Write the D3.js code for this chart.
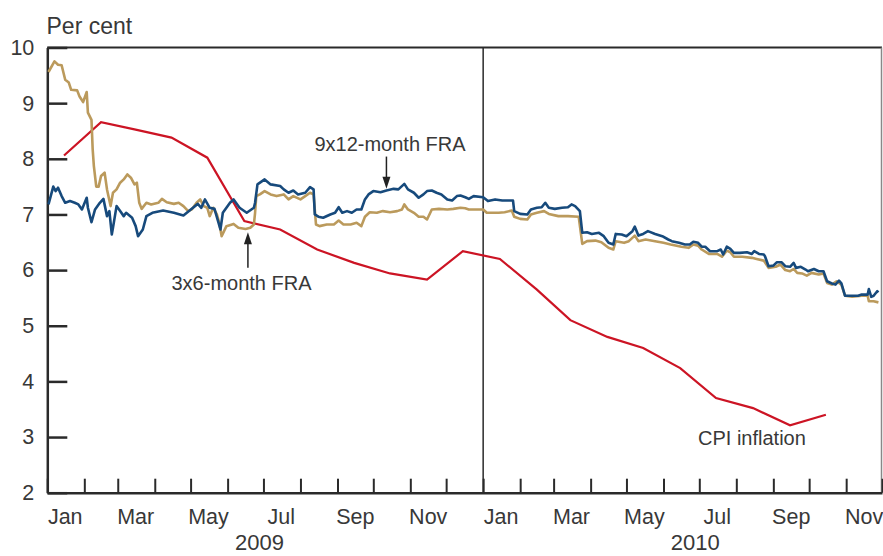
<!DOCTYPE html>
<html>
<head>
<meta charset="utf-8">
<title>FRA and CPI inflation</title>
<style>
body { margin: 0; background: #fff; }
text { font-family: "Liberation Sans", Arial, sans-serif; fill: #383838; }
.axis text { font-size: 21.5px; }
.axis path, .axis line { stroke: #2a2a2a; }
.note { font-size: 20px; }
</style>
</head>
<body>
<script src="https://cdn.jsdelivr.net/npm/d3@7"></script>
<script>

// 3x6-month FRA (per cent)
var fra3x6 = [
  ["2009-01-02", 9.56], ["2009-01-07", 9.75], ["2009-01-10", 9.69], ["2009-01-13", 9.68],
  ["2009-01-16", 9.42], ["2009-01-19", 9.37], ["2009-01-21", 9.24], ["2009-01-26", 9.23],
  ["2009-01-28", 9.12], ["2009-01-31", 9.02], ["2009-02-03", 9.20], ["2009-02-04", 8.83],
  ["2009-02-07", 8.70], ["2009-02-08", 8.17], ["2009-02-09", 7.87], ["2009-02-11", 7.50],
  ["2009-02-13", 7.50], ["2009-02-15", 7.69], ["2009-02-18", 7.75], ["2009-02-20", 7.45],
  ["2009-02-23", 7.15], ["2009-02-25", 7.39], ["2009-02-28", 7.45], ["2009-03-03", 7.57],
  ["2009-03-06", 7.63], ["2009-03-09", 7.72], ["2009-03-12", 7.66], ["2009-03-15", 7.54],
  ["2009-03-17", 7.57], ["2009-03-19", 7.21], ["2009-03-21", 7.10], ["2009-03-25", 7.21],
  ["2009-03-29", 7.18], ["2009-04-04", 7.21], ["2009-04-07", 7.28], ["2009-04-11", 7.22],
  ["2009-04-17", 7.19], ["2009-04-21", 7.21], ["2009-04-25", 7.15], ["2009-04-29", 7.06],
  ["2009-05-02", 7.09], ["2009-05-06", 7.21], ["2009-05-09", 7.27], ["2009-05-12", 7.15],
  ["2009-05-15", 7.12], ["2009-05-17", 6.97], ["2009-05-20", 7.12], ["2009-05-23", 7.00],
  ["2009-05-25", 6.85], ["2009-05-27", 6.61], ["2009-05-31", 6.79], ["2009-06-06", 6.83],
  ["2009-06-10", 6.76], ["2009-06-16", 6.74], ["2009-06-20", 6.76], ["2009-06-23", 6.82],
  ["2009-06-24", 7.03], ["2009-06-25", 7.33], ["2009-06-28", 7.36], ["2009-07-02", 7.42],
  ["2009-07-07", 7.36], ["2009-07-12", 7.33], ["2009-07-18", 7.36], ["2009-07-22", 7.27],
  ["2009-07-26", 7.33], ["2009-08-01", 7.27], ["2009-08-05", 7.33], ["2009-08-09", 7.39],
  ["2009-08-12", 7.36], ["2009-08-14", 6.82], ["2009-08-17", 6.79], ["2009-08-23", 6.82],
  ["2009-08-29", 6.82], ["2009-09-02", 6.89], ["2009-09-06", 6.82], ["2009-09-12", 6.82],
  ["2009-09-17", 6.85], ["2009-09-21", 6.79], ["2009-09-24", 6.96], ["2009-09-28", 7.04],
  ["2009-10-04", 7.03], ["2009-10-09", 7.06], ["2009-10-15", 7.04], ["2009-10-21", 7.06],
  ["2009-10-25", 7.09], ["2009-10-27", 7.18], ["2009-10-30", 7.09], ["2009-11-04", 7.03],
  ["2009-11-08", 6.96], ["2009-11-12", 6.96], ["2009-11-15", 6.91], ["2009-11-19", 7.09],
  ["2009-11-25", 7.10], ["2009-12-02", 7.09], ["2009-12-07", 7.10], ["2009-12-13", 7.12],
  ["2009-12-17", 7.11], ["2009-12-20", 7.09], ["2010-01-01", 7.09], ["2010-01-04", 7.03],
  ["2010-01-14", 7.03], ["2010-01-19", 7.04], ["2010-01-25", 7.07], ["2010-01-27", 6.96],
  ["2010-02-01", 6.92], ["2010-02-07", 6.91], ["2010-02-10", 7.00], ["2010-02-15", 7.03],
  ["2010-02-21", 7.06], ["2010-02-25", 7.01], ["2010-03-05", 6.97], ["2010-03-13", 6.97],
  ["2010-03-22", 6.96], ["2010-03-25", 6.47], ["2010-03-29", 6.52], ["2010-04-05", 6.53],
  ["2010-04-10", 6.50], ["2010-04-16", 6.40], ["2010-04-20", 6.37], ["2010-04-22", 6.52],
  ["2010-04-29", 6.49], ["2010-05-03", 6.52], ["2010-05-08", 6.62], ["2010-05-11", 6.52],
  ["2010-05-17", 6.55], ["2010-05-25", 6.52], ["2010-06-01", 6.49], ["2010-06-07", 6.46],
  ["2010-06-16", 6.42], ["2010-06-22", 6.40], ["2010-06-26", 6.46], ["2010-06-30", 6.44],
  ["2010-07-03", 6.37], ["2010-07-09", 6.29], ["2010-07-16", 6.29], ["2010-07-20", 6.24],
  ["2010-07-24", 6.35], ["2010-07-27", 6.32], ["2010-07-30", 6.24], ["2010-08-06", 6.24],
  ["2010-08-14", 6.22], ["2010-08-18", 6.20], ["2010-08-24", 6.17], ["2010-08-28", 6.04],
  ["2010-09-03", 6.06], ["2010-09-07", 6.10], ["2010-09-11", 6.00], ["2010-09-15", 5.98],
  ["2010-09-18", 6.02], ["2010-09-21", 5.95], ["2010-09-25", 5.94], ["2010-09-29", 5.90],
  ["2010-10-03", 5.95], ["2010-10-09", 5.92], ["2010-10-13", 5.94], ["2010-10-16", 5.77],
  ["2010-10-20", 5.74], ["2010-10-24", 5.80], ["2010-10-28", 5.74], ["2010-10-31", 5.54],
  ["2010-11-06", 5.52], ["2010-11-14", 5.54], ["2010-11-19", 5.54], ["2010-11-20", 5.44],
  ["2010-11-24", 5.44], ["2010-11-28", 5.42]
];

// 9x12-month FRA (per cent)
var fra9x12 = [
  ["2009-01-02", 7.18], ["2009-01-06", 7.50], ["2009-01-08", 7.42], ["2009-01-10", 7.48],
  ["2009-01-13", 7.33], ["2009-01-16", 7.21], ["2009-01-20", 7.24], ["2009-01-24", 7.21],
  ["2009-01-27", 7.18], ["2009-01-30", 7.09], ["2009-02-03", 7.30], ["2009-02-04", 7.12],
  ["2009-02-07", 6.86], ["2009-02-10", 7.09], ["2009-02-14", 7.21], ["2009-02-17", 7.28],
  ["2009-02-20", 6.97], ["2009-02-22", 7.06], ["2009-02-24", 6.64], ["2009-02-25", 6.76],
  ["2009-02-28", 7.15], ["2009-03-03", 7.06], ["2009-03-06", 6.97], ["2009-03-08", 7.03],
  ["2009-03-13", 6.94], ["2009-03-16", 6.79], ["2009-03-18", 6.61], ["2009-03-22", 6.73],
  ["2009-03-25", 6.97], ["2009-03-30", 7.03], ["2009-04-08", 7.07], ["2009-04-17", 7.03],
  ["2009-04-25", 6.98], ["2009-05-03", 7.12], ["2009-05-07", 7.19], ["2009-05-10", 7.12],
  ["2009-05-13", 7.27], ["2009-05-17", 7.12], ["2009-05-21", 7.10], ["2009-05-26", 6.73],
  ["2009-05-28", 7.03], ["2009-06-03", 7.21], ["2009-06-06", 7.27], ["2009-06-11", 7.12],
  ["2009-06-17", 7.03], ["2009-06-23", 7.12], ["2009-06-24", 7.21], ["2009-06-26", 7.54],
  ["2009-07-02", 7.63], ["2009-07-07", 7.54], ["2009-07-15", 7.51], ["2009-07-18", 7.45],
  ["2009-07-22", 7.39], ["2009-07-26", 7.43], ["2009-07-30", 7.36], ["2009-08-05", 7.39],
  ["2009-08-09", 7.49], ["2009-08-12", 7.45], ["2009-08-13", 7.00], ["2009-08-16", 6.96],
  ["2009-08-20", 6.94], ["2009-08-26", 7.00], ["2009-08-30", 7.03], ["2009-09-02", 7.13],
  ["2009-09-05", 7.03], ["2009-09-09", 7.06], ["2009-09-13", 7.03], ["2009-09-17", 7.09],
  ["2009-09-21", 7.09], ["2009-09-24", 7.27], ["2009-09-27", 7.36], ["2009-10-01", 7.42],
  ["2009-10-07", 7.40], ["2009-10-12", 7.43], ["2009-10-18", 7.46], ["2009-10-22", 7.45],
  ["2009-10-27", 7.55], ["2009-10-30", 7.45], ["2009-11-04", 7.39], ["2009-11-08", 7.30],
  ["2009-11-12", 7.36], ["2009-11-15", 7.42], ["2009-11-19", 7.43], ["2009-11-23", 7.39],
  ["2009-11-27", 7.36], ["2009-12-02", 7.27], ["2009-12-06", 7.25], ["2009-12-10", 7.33],
  ["2009-12-13", 7.34], ["2009-12-17", 7.31], ["2009-12-20", 7.28], ["2009-12-24", 7.33],
  ["2010-01-01", 7.31], ["2010-01-05", 7.24], ["2010-01-11", 7.27], ["2010-01-17", 7.25],
  ["2010-01-22", 7.25], ["2010-01-26", 7.25], ["2010-01-27", 7.06], ["2010-02-01", 7.01],
  ["2010-02-07", 7.00], ["2010-02-10", 7.09], ["2010-02-15", 7.12], ["2010-02-19", 7.13],
  ["2010-02-22", 7.21], ["2010-02-25", 7.12], ["2010-03-02", 7.10], ["2010-03-08", 7.12],
  ["2010-03-13", 7.13], ["2010-03-16", 7.18], ["2010-03-19", 7.15], ["2010-03-23", 7.06],
  ["2010-03-25", 6.67], ["2010-03-29", 6.68], ["2010-04-02", 6.65], ["2010-04-08", 6.67],
  ["2010-04-12", 6.61], ["2010-04-16", 6.49], ["2010-04-20", 6.46], ["2010-04-22", 6.65],
  ["2010-04-27", 6.64], ["2010-05-01", 6.61], ["2010-05-06", 6.70], ["2010-05-08", 6.78],
  ["2010-05-11", 6.62], ["2010-05-15", 6.65], ["2010-05-19", 6.70], ["2010-05-25", 6.65],
  ["2010-05-31", 6.61], ["2010-06-05", 6.55], ["2010-06-08", 6.52], ["2010-06-14", 6.49],
  ["2010-06-19", 6.46], ["2010-06-23", 6.46], ["2010-06-26", 6.51], ["2010-06-30", 6.49],
  ["2010-07-03", 6.42], ["2010-07-06", 6.42], ["2010-07-10", 6.34], ["2010-07-16", 6.34],
  ["2010-07-19", 6.37], ["2010-07-21", 6.28], ["2010-07-24", 6.42], ["2010-07-27", 6.38],
  ["2010-07-30", 6.31], ["2010-08-04", 6.31], ["2010-08-10", 6.32], ["2010-08-14", 6.29],
  ["2010-08-16", 6.34], ["2010-08-20", 6.29], ["2010-08-24", 6.28], ["2010-08-25", 6.25],
  ["2010-08-28", 6.07], ["2010-09-01", 6.08], ["2010-09-04", 6.14], ["2010-09-08", 6.14],
  ["2010-09-11", 6.07], ["2010-09-15", 6.06], ["2010-09-18", 6.13], ["2010-09-20", 6.04],
  ["2010-09-24", 6.06], ["2010-09-28", 6.01], ["2010-09-30", 5.98], ["2010-10-05", 6.02],
  ["2010-10-09", 5.98], ["2010-10-13", 5.98], ["2010-10-16", 5.80], ["2010-10-20", 5.76],
  ["2010-10-23", 5.74], ["2010-10-26", 5.81], ["2010-10-28", 5.76], ["2010-10-31", 5.54],
  ["2010-11-05", 5.54], ["2010-11-11", 5.54], ["2010-11-14", 5.56], ["2010-11-19", 5.56],
  ["2010-11-20", 5.66], ["2010-11-22", 5.52], ["2010-11-24", 5.54], ["2010-11-27", 5.62],
  ["2010-11-28", 5.60]
];

// CPI inflation, monthly (plotted mid-month)
var cpiMonths = [
  "2009-01-15", "2009-02-15", "2009-03-15", "2009-04-15", "2009-05-15", "2009-06-15",
  "2009-07-15", "2009-08-15", "2009-09-15", "2009-10-15", "2009-11-15", "2009-12-15",
  "2010-01-15", "2010-02-15", "2010-03-15", "2010-04-15", "2010-05-15", "2010-06-15",
  "2010-07-15", "2010-08-15", "2010-09-15", "2010-10-15"
];
var cpiValues = [8.06, 8.66, 8.53, 8.38, 8.02, 6.88, 6.73, 6.37, 6.13, 5.94, 5.83, 6.34,
                 6.20, 5.65, 5.10, 4.80, 4.60, 4.24, 3.70, 3.52, 3.21, 3.40];

var yTicks = [2, 3, 4, 5, 6, 7, 8, 9, 10];
var monthLabels = ["Jan", "Mar", "May", "Jul", "Sep", "Nov"];
var years = [2009, 2010];

var width = 883,
    height = 556;

var parse = d3.timeParse("%Y-%m-%d");

var x = d3.scaleTime()
    .domain([new Date(2009, 0, 1), new Date(2010, 11, 1)])
    .range([47.3, 882]);

var y = d3.scaleLinear()
    .domain([2, 10])
    .range([492.7, 47.5]);

var svg = d3.select("body").append("svg")
    .attr("width", width)
    .attr("height", height);

// frame: top and right
svg.append("line")
    .attr("x1", x.range()[0]).attr("x2", x.range()[1])
    .attr("y1", y(10)).attr("y2", y(10))
    .style("stroke", "#2a2a2a").style("stroke-width", 2);
svg.append("line")
    .attr("x1", x.range()[1] - 0.5).attr("x2", x.range()[1] - 0.5)
    .attr("y1", y(10)).attr("y2", y(2))
    .style("stroke", "#888").style("stroke-width", 1.5);

// divider between years
svg.append("line")
    .attr("x1", x(new Date(2010, 0, 1))).attr("x2", x(new Date(2010, 0, 1)))
    .attr("y1", y(10)).attr("y2", y(2))
    .style("stroke", "#2a2a2a").style("stroke-width", 1.5);

// y axis, ticks pointing inwards
var yAxis = svg.append("g")
    .attr("class", "axis")
    .attr("transform", "translate(" + x.range()[0] + ",0)")
    .call(d3.axisLeft(y).tickValues(yTicks).tickSize(-20).tickPadding(13).tickSizeOuter(0));
yAxis.select(".domain").style("stroke-width", 2.5);
yAxis.selectAll(".tick line").style("stroke-width", 2.5);

// x axis, month boundaries
var xAxis = svg.append("g")
    .attr("class", "axis")
    .attr("transform", "translate(0," + y(2) + ")")
    .call(d3.axisBottom(x).ticks(d3.timeMonth.every(1)).tickSize(-14).tickFormat("").tickSizeOuter(0));
xAxis.select(".domain").style("stroke-width", 2.5);
xAxis.selectAll(".tick line").style("stroke-width", 2);

// month and year labels
years.forEach(function(yr) {
  monthLabels.forEach(function(m, i) {
    svg.append("text")
        .style("font-size", "21.5px")
        .attr("x", x(new Date(yr, i * 2, 16)))
        .attr("y", 524)
        .attr("text-anchor", "middle")
        .text(m);
  });
  svg.append("text")
      .style("font-size", "22px")
      .attr("x", x(new Date(yr, 6, 1)) - 4)
      .attr("y", 550)
      .attr("text-anchor", "middle")
      .text(yr);
});

svg.append("text")
    .style("font-size", "23px")
    .attr("x", 46.5)
    .attr("y", 34)
    .text("Per cent");

var line = d3.line()
    .x(function(d) { return x(parse(d[0])); })
    .y(function(d) { return y(d[1]); });

var cpi = cpiMonths.map(function(m, i) { return [m, cpiValues[i]]; });

svg.append("path")
    .datum(cpi)
    .attr("d", line)
    .style("fill", "none")
    .style("stroke", "#cc1424")
    .style("stroke-width", 2.2);

svg.append("path")
    .datum(fra3x6)
    .attr("d", line)
    .style("fill", "none")
    .style("stroke", "#bb9a5c")
    .style("stroke-width", 2.6)
    .style("stroke-linejoin", "round");

svg.append("path")
    .datum(fra9x12)
    .attr("d", line)
    .style("fill", "none")
    .style("stroke", "#174a7c")
    .style("stroke-width", 2.6)
    .style("stroke-linejoin", "round");

// annotations
function arrow(date, yFrom, yTip) {
  var ax = x(parse(date)), y0 = y(yFrom), y1 = y(yTip);
  var dir = y1 > y0 ? -1 : 1;
  svg.append("line")
      .attr("x1", ax).attr("x2", ax)
      .attr("y1", y0).attr("y2", y1 + dir * 10)
      .style("stroke", "#222").style("stroke-width", 1.5);
  svg.append("path")
      .attr("d", "M" + ax + "," + y1 + "L" + (ax - 4) + "," + (y1 + dir * 12) + "L" + (ax + 4) + "," + (y1 + dir * 12) + "Z")
      .style("fill", "#222");
}

svg.append("text")
    .attr("class", "note")
    .attr("x", x(parse("2009-10-15")))
    .attr("y", 150.5)
    .attr("text-anchor", "middle")
    .text("9x12-month FRA");
arrow("2009-10-12", 8.04, 7.46);

svg.append("text")
    .attr("class", "note")
    .attr("x", 171.5)
    .attr("y", 290)
    .text("3x6-month FRA");
arrow("2009-06-18", 6.04, 6.68);

svg.append("text")
    .attr("class", "note")
    .attr("x", 698)
    .attr("y", 444.5)
    .text("CPI inflation");

</script>
</body>
</html>
